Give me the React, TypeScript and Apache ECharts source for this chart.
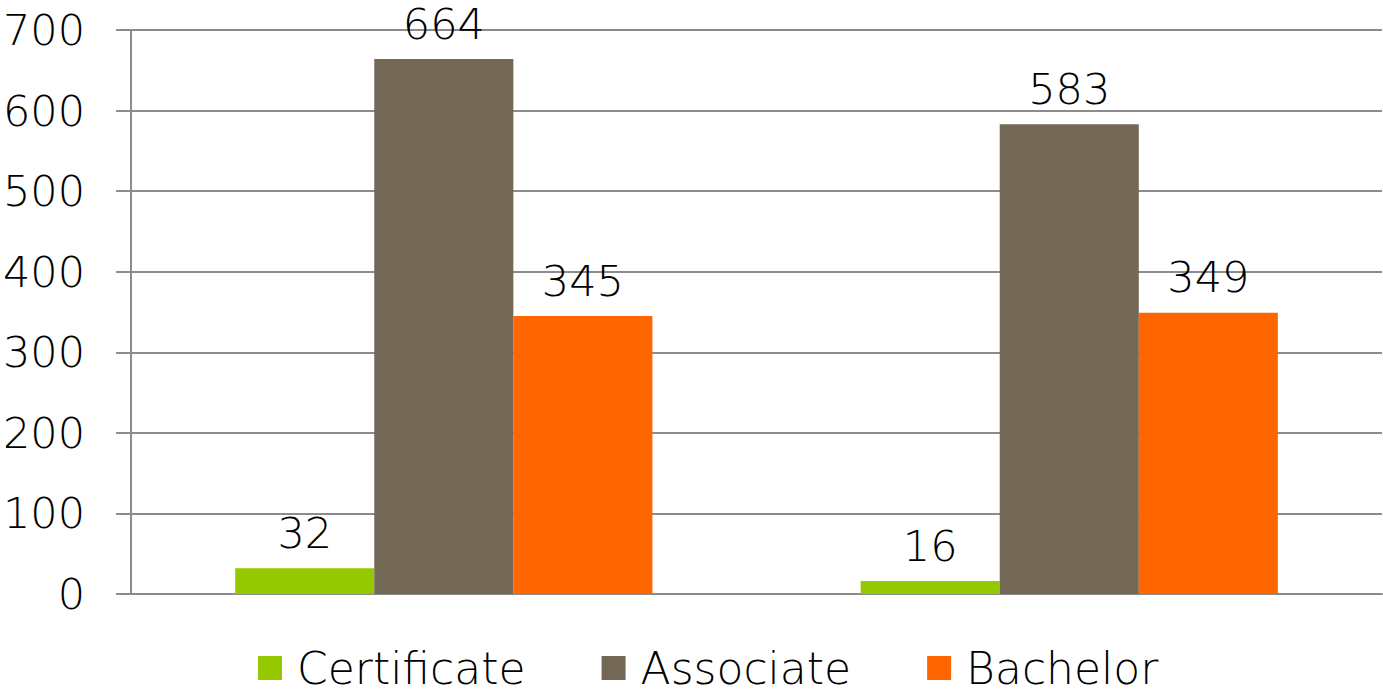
import React, { useEffect, useRef } from "react";
import * as echarts from "echarts";

const categories = ["Group 1", "Group 2"];
const seriesNames = ["Certificate", "Associate", "Bachelor"];
const certificate = [32, 16];
const associate = [664, 583];
const bachelor = [345, 349];
const colors = ["#96C800", "#736756", "#FF6600"];
const FONT = "'Century Gothic', 'URW Gothic', 'DejaVu Sans', sans-serif";

export default function App() {
  const ref = useRef<HTMLDivElement>(null);
  useEffect(() => {
    if (!ref.current) return;
    const chart = echarts.init(ref.current, null, { renderer: "svg" });
    const values = [certificate, associate, bachelor];
    chart.setOption({
      animation: false,
      textStyle: { fontFamily: FONT },
      grid: { left: 128, right: 1, top: 30, bottom: 102, containLabel: false },
      legend: {
        top: 646,
        left: 258,
        padding: 0,
        itemWidth: 24,
        itemHeight: 24,
        itemGap: 76,
        icon: "rect",
        textStyle: {
          fontSize: 44,
          lineHeight: 44,
          color: "#000",
          fontFamily: FONT,
          fontWeight: 200,
          padding: [0, 0, 0, 10],
        },
        data: seriesNames,
      },
      xAxis: {
        type: "category",
        data: categories,
        axisLabel: { show: false },
        axisTick: { show: false },
        axisLine: { show: true, lineStyle: { color: "#8c8c8c", width: 2 } },
      },
      yAxis: {
        type: "value",
        min: 0,
        max: 700,
        interval: 100,
        axisLine: { show: true, lineStyle: { color: "#8c8c8c", width: 2 } },
        axisTick: { show: true, length: 15, lineStyle: { color: "#8c8c8c", width: 2 } },
        splitLine: { show: true, lineStyle: { color: "#8c8c8c", width: 2 } },
        axisLabel: { fontSize: 43, color: "#000", margin: 46, fontFamily: FONT, fontWeight: 200 },
      },
      series: seriesNames.map((name, i) => ({
        name,
        type: "bar",
        data: values[i],
        barGap: "0%",
        barCategoryGap: "33.3%",
        itemStyle: { color: colors[i] },
        label: {
          show: true,
          position: "top",
          distance: 14,
          fontSize: 43,
          color: "#000",
          fontFamily: FONT,
          fontWeight: 200,
        },
      })),
    });
    return () => chart.dispose();
  }, []);
  return (
    <div
      ref={ref}
      style={{ position: "absolute", left: 0, top: 0, width: 1383, height: 696, background: "#fff" }}
    />
  );
}
